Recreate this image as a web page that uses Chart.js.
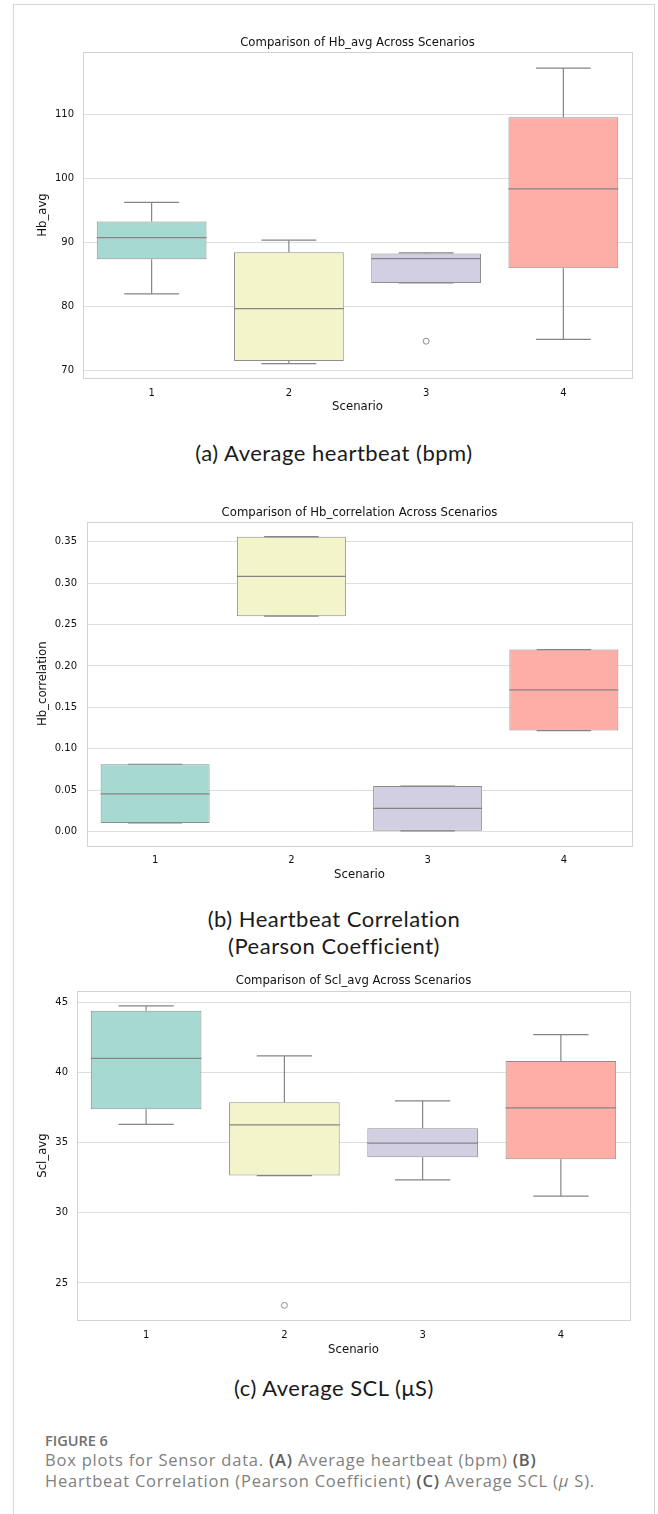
<!DOCTYPE html>
<html>
<head>
<meta charset="utf-8">
<script src="https://cdn.jsdelivr.net/npm/chart.js@4.4.0/dist/chart.umd.min.js"></script>
<style>
  body { margin: 0; background: #fff; width: 658px; height: 1514px; position: relative; overflow: hidden; }
  .frame { position: absolute; left: 13px; top: 4px; width: 642px; height: 1530px; border: 1px solid #d6d6d6; border-bottom: none; box-sizing: border-box; }
  canvas { position: absolute; left: 14px; }
  .sub { position: absolute; left: 14px; width: 640px; text-align: center; font-family: Lato, sans-serif; font-size: 22px; letter-spacing: 0.5px; font-weight: 400; color: #1a1a1a; }
  .fig { position: absolute; left: 45px; font-family: "Open Sans", sans-serif; color: #808080; }
  .fig b { color: #5c5c5c; font-weight: 600; }
</style>
</head>
<body>
<div class="frame"></div>

<canvas id="hb" width="640" height="400" style="top:20px"></canvas>
<div class="sub" style="top:440px; line-height:26px">(a) Average heartbeat (bpm)</div>

<canvas id="cor" width="640" height="400" style="top:490px"></canvas>
<div class="sub" style="top:905px; line-height:27px">(b) Heartbeat Correlation<br>(Pearson Coefficient)</div>

<canvas id="scl" width="640" height="410" style="top:960px"></canvas>
<div class="sub" style="top:1375px; line-height:26px">(c) Average SCL (μS)</div>

<div class="fig" style="top:1432px; font-size:14.5px; line-height:18px; color:#707070; font-weight:600">FIGURE 6</div>
<div class="fig" style="top:1449px; font-size:16.5px; line-height:21px; letter-spacing:0.8px">Box plots for Sensor data. <b>(A)</b> Average heartbeat (bpm) <b>(B)</b><br>Heartbeat Correlation (Pearson Coefficient) <b>(C)</b> Average SCL (<i>μ</i> S).</div>

<script>
var scenarios = ['1', '2', '3', '4'];

// (a) Hb_avg
var hbLow  = [81.9, 71.0, 83.6, 74.8];
var hbQ1   = [87.3, 71.4, 83.6, 85.9];
var hbMed  = [90.7, 79.6, 87.4, 98.3];
var hbQ3   = [93.2, 88.4, 88.2, 109.5];
var hbHigh = [96.2, 90.3, 88.3, 117.2];
var hbOut  = [null, null, 74.5, null];
var hbTicks = [70, 80, 90, 100, 110];

// (b) Hb_correlation
var corLow  = [0.0105, 0.260, 0.001, 0.122];
var corQ1   = [0.0105, 0.260, 0.001, 0.122];
var corMed  = [0.0455, 0.308, 0.028, 0.171];
var corQ3   = [0.0813, 0.356, 0.055, 0.2197];
var corHigh = [0.0813, 0.356, 0.055, 0.2197];
var corOut  = [null, null, null, null];
var corTicks = [0, 0.05, 0.10, 0.15, 0.20, 0.25, 0.30, 0.35];

// (c) Scl_avg
var sclLow  = [36.3, 32.65, 32.34, 31.18];
var sclQ1   = [37.38, 32.65, 33.96, 33.82];
var sclMed  = [41.0, 36.26, 34.96, 37.47];
var sclQ3   = [44.4, 37.88, 36.03, 40.82];
var sclHigh = [44.74, 41.18, 37.97, 42.69];
var sclOut  = [null, 23.4, null, null];
var sclTicks = [25, 30, 35, 40, 45];

var boxFill = ['#a6d9d2', '#f3f4c9', '#d3cfe2', '#fdaea6'];
var edgeGrey = '#8e8e8e';

Chart.defaults.font.family = 'DejaVu Sans';
Chart.defaults.font.size = 10;
Chart.defaults.color = '#1a1a1a';

// medians, whiskers and caps on top of the floating bars
var boxLines = {
  id: 'boxLines',
  afterDatasetsDraw: function (chart) {
    var ds = chart.data.datasets[0];
    var meta = chart.getDatasetMeta(0);
    var y = chart.scales.y;
    var ctx = chart.ctx;
    function seg(x1, v1, x2, v2) {
      ctx.beginPath();
      ctx.moveTo(x1, y.getPixelForValue(v1));
      ctx.lineTo(x2, y.getPixelForValue(v2));
      ctx.stroke();
    }
    ctx.save();
    ctx.strokeStyle = '#858585';
    ctx.lineWidth = 1.2;
    meta.data.forEach(function (bar, i) {
      var cx = bar.x, hw = bar.width / 2, cw = bar.width / 4;
      seg(cx - hw, ds.med[i], cx + hw, ds.med[i]);
      seg(cx, ds.data[i][1], cx, ds.hi[i]);
      seg(cx, ds.data[i][0], cx, ds.lo[i]);
      seg(cx - cw, ds.hi[i], cx + cw, ds.hi[i]);
      seg(cx - cw, ds.lo[i], cx + cw, ds.lo[i]);
    });
    ctx.restore();
  }
};

var plotFrame = {
  id: 'plotFrame',
  beforeDatasetsDraw: function (chart) {
    var a = chart.chartArea, ctx = chart.ctx;
    ctx.save();
    ctx.strokeStyle = '#d2d2d2';
    ctx.lineWidth = 1;
    ctx.strokeRect(Math.round(a.left) + 0.5, Math.round(a.top) + 0.5, Math.round(a.right - a.left), Math.round(a.bottom - a.top));
    ctx.restore();
  }
};

function boxChart(id, s, L) {
  return new Chart(document.getElementById(id), {
    type: 'bar',
    plugins: [plotFrame, boxLines],
    data: {
      labels: scenarios,
      datasets: [
        {
          data: s.q1.map(function (v, i) { return [v, s.q3[i]]; }),
          med: s.med, lo: s.lo, hi: s.hi,
          backgroundColor: boxFill,
          borderColor: edgeGrey,
          borderWidth: 1,
          borderSkipped: false,
          barPercentage: 0.8,
          categoryPercentage: 1
        },
        {
          type: 'line',
          data: s.out,
          showLine: false,
          pointRadius: 3,
          pointBorderWidth: 1,
          pointBorderColor: edgeGrey,
          pointBackgroundColor: 'rgba(255,255,255,0)'
        }
      ]
    },
    options: {
      responsive: false,
      animation: false,
      layout: { padding: { left: 0, right: L.padR, top: 0, bottom: 0 } },
      plugins: {
        legend: { display: false },
        tooltip: { enabled: false },
        title: {
          display: true,
          text: L.title,
          fullSize: false,
          color: '#111',
          font: { size: 11.7, weight: 'normal' },
          padding: { top: L.tTop, bottom: L.tBot }
        }
      },
      scales: {
        x: {
          grid: { display: false, drawTicks: false },
          border: { display: false },
          ticks: { padding: 9, color: '#111' },
          title: { display: true, text: 'Scenario', color: '#111', font: { size: 11.7 }, padding: { top: 0, bottom: L.xtPad } },
          afterFit: function (sc) { sc.height = L.xH; }
        },
        y: {
          min: L.min,
          max: L.max,
          afterBuildTicks: function (sc) { sc.ticks = L.ticks.map(function (v) { return { value: v }; }); },
          grid: { color: '#dedede', drawTicks: false },
          border: { display: false },
          ticks: { padding: L.ytPad, color: '#111', callback: L.fmt },
          title: { display: true, text: L.ylabel, color: '#111', font: { size: 11.7 }, padding: { top: 22, bottom: 0 } },
          afterFit: function (sc) { sc.width = L.yW; }
        }
      }
    }
  });
}

boxChart('hb',
  { lo: hbLow, q1: hbQ1, med: hbMed, q3: hbQ3, hi: hbHigh, out: hbOut },
  { title: 'Comparison of Hb_avg Across Scenarios', ylabel: 'Hb_avg', ticks: hbTicks,
    min: 68.75, max: 119.7, fmt: function (v) { return v; },
    padR: 22, yW: 69, xH: 42, tTop: 16, tBot: 2, xtPad: 6, ytPad: 9 });

boxChart('cor',
  { lo: corLow, q1: corQ1, med: corMed, q3: corQ3, hi: corHigh, out: corOut },
  { title: 'Comparison of Hb_correlation Across Scenarios', ylabel: 'Hb_correlation', ticks: corTicks,
    min: -0.017, max: 0.374, fmt: function (v) { return v.toFixed(2); },
    padR: 22, yW: 73, xH: 44.3, tTop: 15.7, tBot: 2, xtPad: 8, ytPad: 10 });

boxChart('scl',
  { lo: sclLow, q1: sclQ1, med: sclMed, q3: sclQ3, hi: sclHigh, out: sclOut },
  { title: 'Comparison of Scl_avg Across Scenarios', ylabel: 'Scl_avg', ticks: sclTicks,
    min: 22.36, max: 45.8, fmt: function (v) { return v; },
    padR: 24, yW: 63, xH: 50, tTop: 14, tBot: 3, xtPad: 13, ytPad: 9 });
</script>
</body>
</html>
